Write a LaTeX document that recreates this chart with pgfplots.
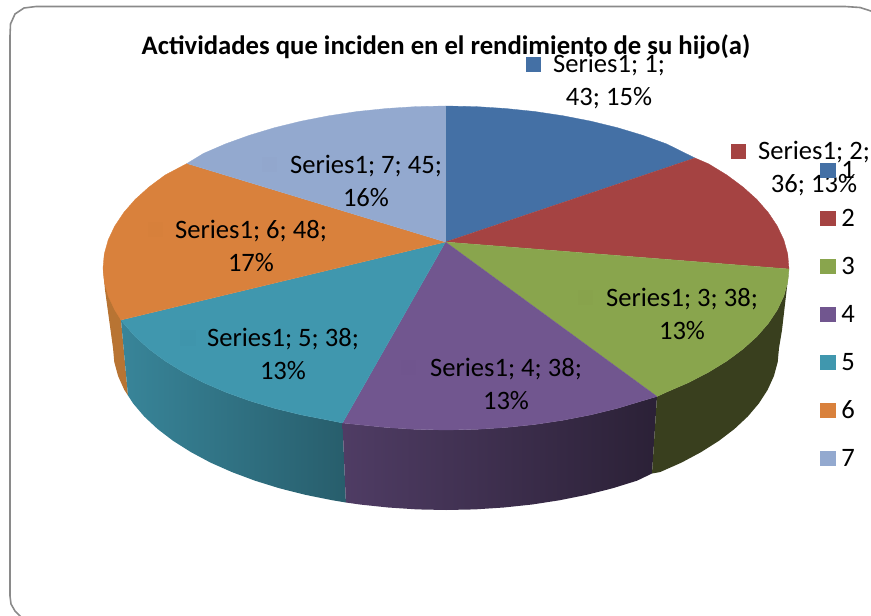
\documentclass[border=0pt]{standalone}
\usepackage{pgfplots}
\pgfplotsset{compat=1.18}
\usepackage{fontspec}
\setmainfont{Carlito}
\definecolor{c1}{HTML}{4470A5}
\definecolor{c2}{HTML}{A54342}
\definecolor{c3}{HTML}{89A54D}
\definecolor{c4}{HTML}{71568F}
\definecolor{c5}{HTML}{4097AE}
\definecolor{c6}{HTML}{D9813C}
\definecolor{c7}{HTML}{93A9CF}
\definecolor{s6}{HTML}{B87433}
\definecolor{s3}{HTML}{393F1E}
\definecolor{bd}{HTML}{8A8A8A}
\tikzset{lab/.style={align=center,font=\fontsize{26.6}{33}\selectfont,inner sep=0pt,text=black},
 leg/.style={anchor=center,font=\fontsize{26.6}{30}\selectfont,inner sep=0pt,text=black}}
\pgfplotsset{key/.style={only marks,mark=square*,mark size=7.3pt,color=#1,mark options={solid,line width=.4pt,draw=#1,fill=#1}}}
\begin{document}
\begin{tikzpicture}
\useasboundingbox (0,0) rectangle (871pt,616pt);
\clip (0,0) rectangle (871pt,616pt);
\begin{axis}[scale only axis,width=871pt,height=616pt,xmin=0,xmax=871,ymin=0,ymax=616,y dir=reverse,
  hide axis,clip=false]
% frame
\addplot[draw=bd,line width=1.6pt,mark=none] coordinates {(880,16)(871,11)(860,7.5)(845,6.5)(36,6.5)(24,8)(15,14)(10.5,24)(10,36)(10,596)(11,604)(15,611)(22,618)};
% side walls
\addplot[fill=s6,draw=none,mark=none] coordinates {(103,268)(104.3,282.1)(105,290)(113,348)(114.3,362.1)(118.1,376.1)(124.3,389.9)(128,395.5)(121,320)};
\addplot[draw=none,mark=none,left color=c5!88!black,right color=c5!62!black] coordinates {(121,320)(123.7,323.4)(135.1,336.5)(149,349)(165,360.9)(183.3,372.1)(203.5,382.6)(225.5,392.1)(249.3,400.7)(274.5,408.3)(301,414.8)(328.7,420.2)(342.5,423)(345.9,502.5)(332.1,500.2)(305.3,494.8)(279.5,488.3)(255,480.7)(232,472.1)(210.5,462.6)(190.9,452.1)(173.2,440.9)(157.6,429)(144.2,416.5)(133.1,403.4)(128,395.5)};
\addplot[draw=none,mark=none,left color=c4!70!black,middle color=c4!47!black,right color=c4!38!black] coordinates {(342.5,423)(386.4,427.5)(416.1,429.4)(446,430)(475.9,429.4)(505.6,427.5)(534.8,424.5)(563.3,420.2)(591,414.8)(617.5,408.3)(642.7,400.7)(657,396.5)(652,473.5)(637,480.7)(612.5,488.3)(586.7,494.8)(559.9,500.2)(532.2,504.5)(503.8,507.5)(475,509.4)(446,510)(417,509.4)(388.2,507.5)(359.8,504.5)(345.9,502.5)};
\addplot[fill=s3,draw=none,mark=none] coordinates {(657,396.5)(666.5,392.1)(688.5,382.6)(708.7,372.1)(727,360.9)(743,349)(756.9,336.5)(768.3,323.4)(777.3,309.9)(783.8,296.1)(787.7,282.1)(789,269)(787,287)(782,330)(779,348)(777.7,362.1)(773.9,376.1)(767.6,389.9)(758.9,403.4)(747.8,416.5)(734.4,429)(718.8,440.9)(701.1,452.1)(681.5,462.6)(660,472.1)(652,473.5)};
% top slices
\addplot[fill=c1,draw=c1,line width=.3pt,mark=none] coordinates {(445.5,242)(445.5,106)(475.9,106.6)(505.6,108.5)(534.8,111.5)(563.3,115.8)(591,121.2)(617.5,127.7)(642.7,135.3)(666.5,143.9)(695,158)};
\addplot[fill=c2,draw=c2,line width=.3pt,mark=none] coordinates {(445.5,242)(695,158)(708.7,163.9)(727,175.1)(743,187)(756.9,199.5)(768.3,212.6)(777.3,226.1)(783.8,239.9)(787.7,253.9)(789,269)};
\addplot[fill=c3,draw=c3,line width=.3pt,mark=none] coordinates {(445.5,242)(789,269)(787.7,282.1)(783.8,296.1)(777.3,309.9)(768.3,323.4)(756.9,336.5)(743,349)(727,360.9)(708.7,372.1)(688.5,382.6)(666.5,392.1)(657,396.5)};
\addplot[fill=c4,draw=c4,line width=.3pt,mark=none] coordinates {(445.5,242)(657,396.5)(642.7,400.7)(617.5,408.3)(591,414.8)(563.3,420.2)(534.8,424.5)(505.6,427.5)(475.9,429.4)(446,430)(416.1,429.4)(386.4,427.5)(342.5,423)};
\addplot[fill=c5,draw=c5,line width=.3pt,mark=none] coordinates {(445.5,242)(342.5,423)(328.7,420.2)(301,414.8)(274.5,408.3)(249.3,400.7)(225.5,392.1)(203.5,382.6)(183.3,372.1)(165,360.9)(149,349)(135.1,336.5)(123.7,323.4)(121,320)};
\addplot[fill=c6,draw=c6,line width=.3pt,mark=none] coordinates {(445.5,242)(121,320)(114.7,309.9)(108.2,296.1)(104.3,282.1)(103,268)(104.3,253.9)(108.2,239.9)(114.7,226.1)(123.7,212.6)(135.1,199.5)(149,187)(165,175.1)(187,163.5)};
\addplot[fill=c7,draw=c7,line width=.3pt,mark=none] coordinates {(445.5,242)(187,163.5)(203.5,153.4)(225.5,143.9)(249.3,135.3)(274.5,127.7)(301,121.2)(328.7,115.8)(357.2,111.5)(386.4,108.5)(416.1,106.6)(445.5,106)};
% data-label keys
\addplot[key=c1] coordinates {(533,64)};
\addplot[key=c2] coordinates {(738,151)};
\addplot[key=c3!99!black] coordinates {(585,297)};
\addplot[key=c4!99!black] coordinates {(408,367)};
\addplot[key=c5!99!black] coordinates {(187.5,337.5)};
\addplot[key=c6!99!black] coordinates {(155,229)};
\addplot[key=c7!99!black] coordinates {(269,164)};
% labels
\node[lab] at (axis cs:609,82) {Series1; 1;\\43; 15\%};
\node[lab] at (axis cs:682,314) {Series1; 3; 38;\\13\%};
\node[lab] at (axis cs:506,384) {Series1; 4; 38;\\13\%};
\node[lab] at (axis cs:283,354) {Series1; 5; 38;\\13\%};
\node[lab] at (axis cs:251,246) {Series1; 6; 48;\\17\%};
\node[lab] at (axis cs:366,181) {Series1; 7; 45;\\16\%};
\node[lab] at (axis cs:814,169) {Series1; 2;\\36; 13\%};
% legend
\addplot[key=c1] coordinates {(827.5,170)};
\addplot[key=c2] coordinates {(827.5,218)};
\addplot[key=c3] coordinates {(827.5,266)};
\addplot[key=c4] coordinates {(827.5,314)};
\addplot[key=c5] coordinates {(827.5,362)};
\addplot[key=c6] coordinates {(827.5,410)};
\addplot[key=c7] coordinates {(827.5,458)};
\node[leg] at (axis cs:848,170) {1};
\node[leg] at (axis cs:848,218) {2};
\node[leg] at (axis cs:848,266) {3};
\node[leg] at (axis cs:848,314) {4};
\node[leg] at (axis cs:848,362) {5};
\node[leg] at (axis cs:848,410) {6};
\node[leg] at (axis cs:848,458) {7};
% title
\node[font=\bfseries\fontsize{26.7}{30}\selectfont,inner sep=0pt,text=black] at (axis cs:446,47) {Actividades que inciden en el rendimiento de su hijo(a)};
\end{axis}
\end{tikzpicture}
\end{document}
